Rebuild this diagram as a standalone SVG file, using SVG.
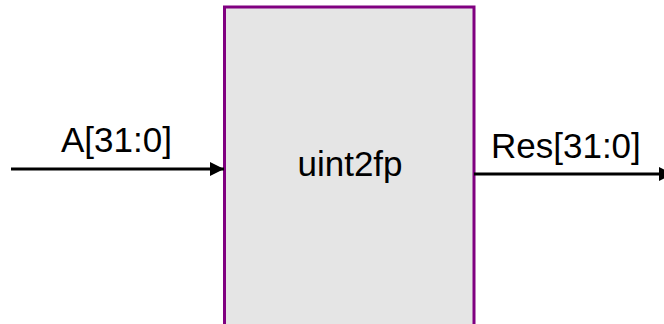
<svg xmlns="http://www.w3.org/2000/svg" width="664" height="324" viewBox="0 0 664 324">
<style>
.lbl{font-family:"Liberation Sans",Arial,sans-serif;font-size:35px;fill:#000}
.wire{stroke:#000;stroke-width:3;fill:none}
.blk{fill:#e5e5e5;stroke:#800080;stroke-width:3}
</style>
<defs>
<marker id="ah" markerUnits="userSpaceOnUse" markerWidth="14" markerHeight="14" refX="14" refY="7" orient="auto" overflow="visible">
<path d="M0,0 L14,7 L0,14 Z" fill="#000"/>
</marker>
</defs>
<g id="uint2fp">
<rect class="blk" x="224.5" y="7" width="249.5" height="330"/>
<text class="lbl" x="350" y="176" text-anchor="middle">uint2fp</text>
</g>
<g id="connectors">
<line class="wire" x1="11" y1="169" x2="224" y2="169" marker-end="url(#ah)"/>
<line class="wire" x1="474" y1="174" x2="673" y2="174" marker-end="url(#ah)"/>
</g>
<g id="labels">
<text class="lbl" x="61" y="152">A[31:0]</text>
<text class="lbl" x="491" y="158">Res[31:0]</text>
</g>
</svg>
